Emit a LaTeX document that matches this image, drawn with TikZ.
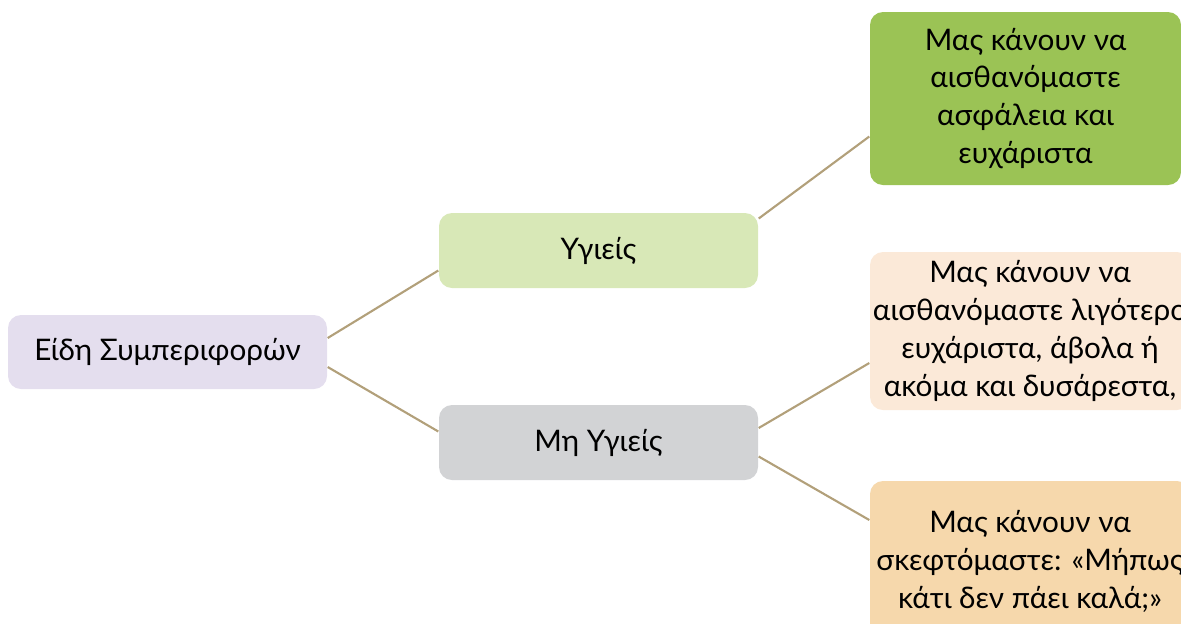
\documentclass[tikz,border=0pt]{standalone}
\usepackage{fontspec}
\setmainfont{Lato}
\usepackage{xcolor}
\usepackage{tikz}
\usetikzlibrary{positioning}

\definecolor{rootfill}{RGB}{228,222,238}
\definecolor{goodfill}{RGB}{216,232,183}
\definecolor{badfill}{RGB}{210,211,213}
\definecolor{safefill}{RGB}{155,195,85}
\definecolor{dullfill}{RGB}{251,233,216}
\definecolor{worryfill}{RGB}{246,216,172}
\definecolor{linkcol}{RGB}{178,160,122}

\begin{document}
\begin{tikzpicture}[
        every node/.style={rounded corners=0.13cm, inner sep=0pt, align=center, font=\fontsize{8.45}{10.8}\selectfont},
        level/.style={minimum width=3.19cm, minimum height=0.75cm},
        leaf/.style={minimum width=3.2cm},
        link/.style={draw=linkcol, line width=0.6pt}
    ]
        \useasboundingbox (0,0) rectangle (11.81,-6.23);
        \clip (0,0) rectangle (11.81,-6.23);
        % Nodes
        \node (root) at (1.675,-3.52) [level, minimum height=0.74cm, fill=rootfill] {Είδη Συμπεριφορών};
        \node (good) at (5.985,-2.505) [level, fill=goodfill] {Υγιείς};
        \node (bad) at (5.985,-4.425) [level, fill=badfill] {Μη Υγιείς};
        \node (safe) at (10.255,-0.985) [minimum width=3.11cm, minimum height=1.73cm, fill=safefill] {Μας κάνουν να\\αισθανόμαστε\\ασφάλεια και\\ευχάριστα};
        \node (dull) at (10.30,-3.31) [leaf, minimum height=1.58cm, fill=dullfill] {Μας κάνουν να\\αισθανόμαστε λιγότερο\\ευχάριστα, άβολα ή\\ακόμα και δυσάρεστα,};
        \node (worry) at (10.30,-5.61) [leaf, minimum height=1.60cm, fill=worryfill] {Μας κάνουν να\\σκεφτόμαστε: «Μήπως\\κάτι δεν πάει καλά;»};

        % Links
        \draw[link] ([yshift=0.14cm]root.east) -- ([yshift=-0.20cm]good.west);
        \draw[link] ([yshift=-0.15cm]root.east) -- ([yshift=0.11cm]bad.west);
        \draw[link] ([yshift=0.32cm]good.east) -- ([yshift=-0.38cm]safe.west);
        \draw[link] ([yshift=0.145cm]bad.east) -- ([yshift=-0.32cm]dull.west);
        \draw[link] ([yshift=-0.14cm]bad.east) -- ([yshift=0.41cm]worry.west);
    \end{tikzpicture}
\end{document}
